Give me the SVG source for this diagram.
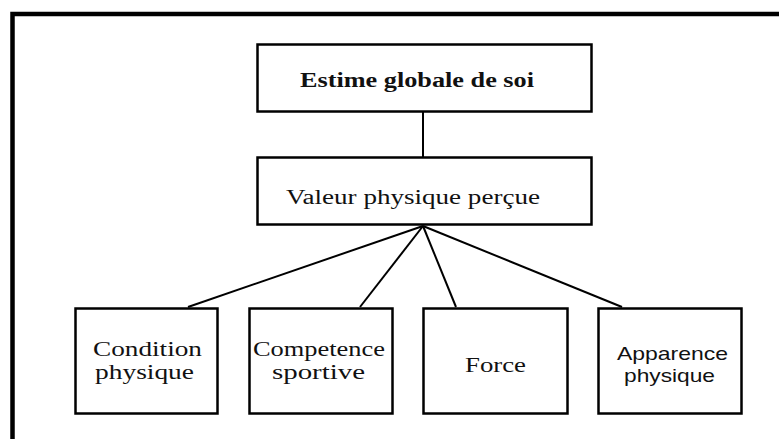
<svg xmlns="http://www.w3.org/2000/svg" width="779" height="439" viewBox="0 0 779 439">
<style>
.box{fill:#fff;stroke:#000;stroke-width:2.5}
.ser{font-family:"Liberation Serif","Times New Roman",serif;font-size:20px;fill:#111}
.san{font-family:"Liberation Sans",Arial,sans-serif;font-size:19px;fill:#111}
.con{stroke:#000;stroke-width:2;fill:none}
</style>
<rect width="779" height="439" fill="#fff"/>
<path d="M12.5,439 V14 H779" fill="none" stroke="#000" stroke-width="4.5"/>
<g id="connectors">
<line class="con" x1="423" y1="112" x2="423" y2="157"/>
<line class="con" x1="423" y1="226" x2="188" y2="307"/>
<line class="con" x1="423" y1="226" x2="360" y2="307"/>
<line class="con" x1="423" y1="226" x2="456" y2="307"/>
<line class="con" x1="423" y1="226" x2="622" y2="307"/>
</g>
<g id="estime">
<rect class="box" x="257.5" y="44.5" width="334" height="67"/>
<text class="ser" x="300" y="87" font-size="23" font-weight="bold" textLength="234" lengthAdjust="spacingAndGlyphs">Estime globale de soi</text>
</g>
<g id="valeur">
<rect class="box" x="257.5" y="157.5" width="334" height="67"/>
<text class="ser" x="286" y="204" font-size="22" textLength="254" lengthAdjust="spacingAndGlyphs">Valeur physique perçue</text>
</g>
<g id="condition">
<rect class="box" x="75.5" y="308.5" width="142" height="105"/>
<text class="ser" x="93" y="356" textLength="109" lengthAdjust="spacingAndGlyphs">Condition</text>
<text class="ser" x="95" y="379" textLength="99" lengthAdjust="spacingAndGlyphs">physique</text>
</g>
<g id="competence">
<rect class="box" x="249.5" y="308.5" width="143" height="105"/>
<text class="ser" x="253" y="356" textLength="132" lengthAdjust="spacingAndGlyphs">Competence</text>
<text class="ser" x="272" y="379" textLength="93" lengthAdjust="spacingAndGlyphs">sportive</text>
</g>
<g id="force">
<rect class="box" x="423.5" y="308.5" width="144" height="105"/>
<text class="ser" x="465" y="372" font-size="24" textLength="61" lengthAdjust="spacingAndGlyphs">Force</text>
</g>
<g id="apparence">
<rect class="box" x="598.5" y="308.5" width="143" height="105"/>
<text class="san" x="617" y="360" textLength="111" lengthAdjust="spacingAndGlyphs">Apparence</text>
<text class="san" x="624" y="382" textLength="91" lengthAdjust="spacingAndGlyphs">physique</text>
</g>
</svg>
